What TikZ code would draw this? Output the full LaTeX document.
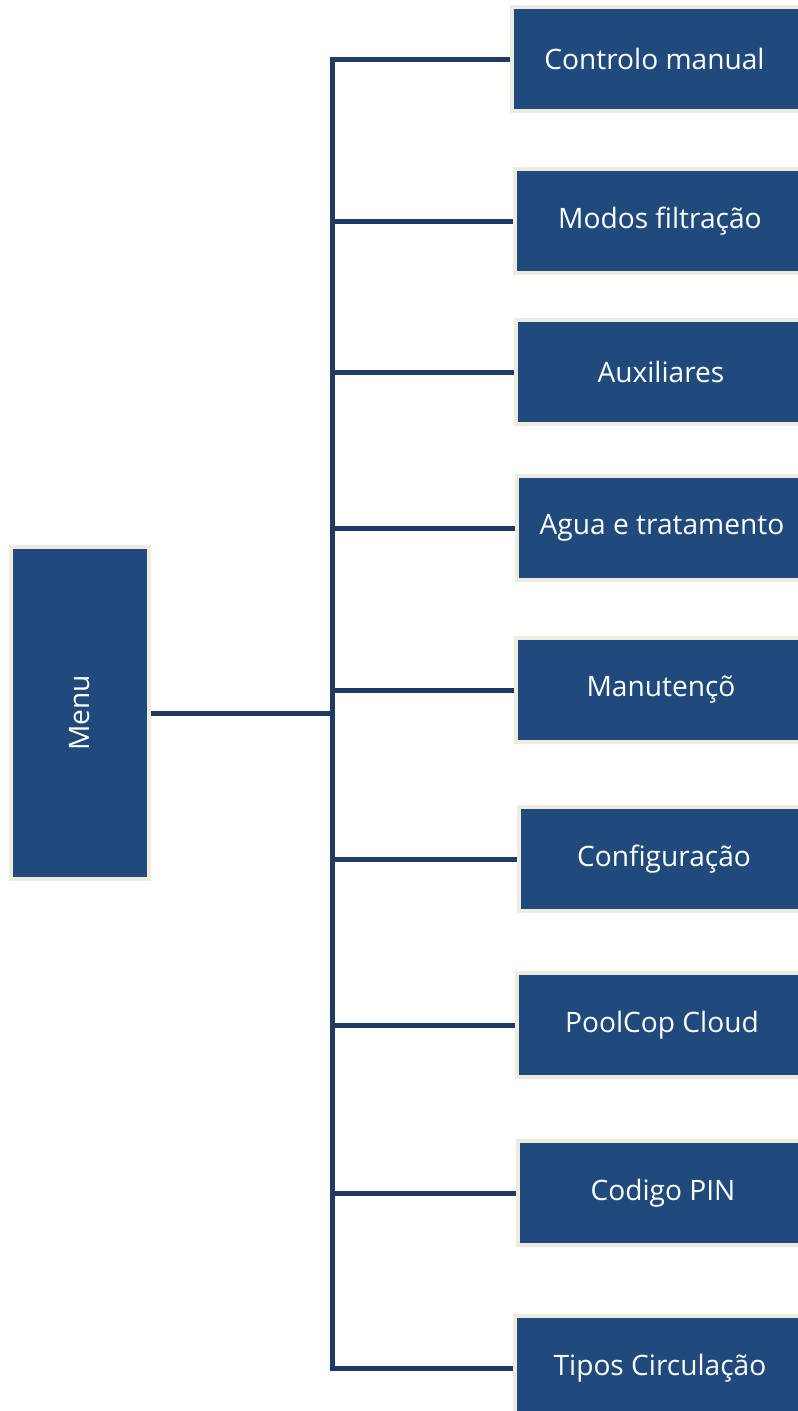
\documentclass[tikz,border=0pt]{standalone}
\usepackage{fontspec}
\setmainfont{Open Sans}
\definecolor{boxblue}{HTML}{214A7C}
\definecolor{boxrim}{HTML}{EEEBDF}
\definecolor{linkblue}{HTML}{1F3A64}
\tikzset{
    menubox/.style={draw=boxrim, fill=boxblue, line width=0.08cm, text=white,
        font=\fontsize{16}{19}\selectfont, inner sep=0pt},
    itembox/.style={menubox, anchor=west, minimum width=5.8cm, minimum height=2.08cm},
    link/.style={draw=linkblue, line width=0.1cm}
}
\begin{document}
\begin{tikzpicture}[x=0.02cm, y=-0.02cm]
    \useasboundingbox (0,0) rectangle (798,1411);

    % menu
    \node[menubox, minimum width=2.76cm, minimum height=6.66cm] (menu) at (80,713)
        {\rotatebox{90}{Menu}};
    \coordinate (hub) at (332,713);

    % entradas
    \node[itembox] (ctrl) at (510,59) {\hspace{-0.1cm}Controlo manual};
    \node[itembox] (modos) at (513,221) {Modos filtração};
    \node[itembox] (aux) at (514,372) {Auxiliares};
    \node[itembox] (agua) at (515,528) {Agua e tratamento};
    \node[itembox] (manut) at (514,690) {Manutençõ};
    \node[itembox] (config) at (517,859) {Configuração};
    \node[itembox] (cloud) at (515,1025) {PoolCop Cloud};
    \node[itembox] (pin) at (516,1193) {Codigo PIN};
    \node[itembox] (tipos) at (513,1368) {Tipos Circulação};

    % ligações
    \draw[link] (menu.east) -- (hub);
    \foreach \item in {ctrl, modos, aux, agua, manut, config, cloud, pin, tipos}
        \draw[link] (hub) |- (\item.west);
\end{tikzpicture}
\end{document}
